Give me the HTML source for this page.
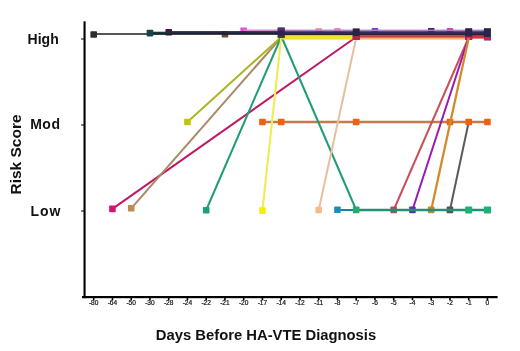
<!DOCTYPE html>
<html><head><meta charset="utf-8"><style>
html,body{margin:0;padding:0;background:#fff;}
body{width:520px;height:351px;overflow:hidden;position:relative;}
svg{position:absolute;left:0;top:0;filter:blur(0.3px);}
</style></head><body>
<svg width="520" height="351" viewBox="0 0 520 351">
<line x1="262.45" y1="122.00" x2="487.45" y2="122.00" stroke="#c47a4c" stroke-width="2.4"/>
<line x1="337.45" y1="210.00" x2="487.45" y2="210.00" stroke="#1e7fa8" stroke-width="1.8"/>
<line x1="112.45" y1="208.90" x2="356.20" y2="37.00" stroke="#bc1a66" stroke-width="2.0"/>
<line x1="131.20" y1="208.30" x2="281.20" y2="37.50" stroke="#aa8a64" stroke-width="2.0"/>
<line x1="187.45" y1="122.00" x2="281.20" y2="37.00" stroke="#acb424" stroke-width="2.0"/>
<line x1="206.20" y1="210.00" x2="281.20" y2="37.00" stroke="#1e9c78" stroke-width="2.0"/>
<line x1="262.45" y1="210.00" x2="281.20" y2="37.50" stroke="#f0ec50" stroke-width="2.1"/>
<line x1="281.20" y1="36.00" x2="356.20" y2="210.00" stroke="#1e9c78" stroke-width="2.0"/>
<line x1="318.70" y1="210.00" x2="356.20" y2="38.00" stroke="#e6c09c" stroke-width="2.0"/>
<line x1="393.70" y1="210.00" x2="468.70" y2="37.50" stroke="#c8505a" stroke-width="2.0"/>
<line x1="412.45" y1="210.00" x2="468.70" y2="37.50" stroke="#9a18b4" stroke-width="2.0"/>
<line x1="449.95" y1="210.00" x2="468.70" y2="122.00" stroke="#5a5a5a" stroke-width="2.0"/>
<rect x="165.40" y="28.90" width="6.6" height="6.6" rx="0.8" fill="#50103c"/>
<rect x="221.65" y="31.00" width="6.6" height="6.6" rx="0.8" fill="#6a4a30"/>
<rect x="240.40" y="27.50" width="6.6" height="6.6" rx="0.8" fill="#e050d8"/>
<rect x="315.40" y="28.00" width="6.6" height="6.6" rx="0.8" fill="#f0a090"/>
<rect x="334.15" y="28.00" width="6.6" height="6.6" rx="0.8" fill="#f088c8"/>
<rect x="371.65" y="28.10" width="6.6" height="6.6" rx="0.8" fill="#7040c0"/>
<rect x="427.90" y="27.90" width="6.6" height="6.6" rx="0.8" fill="#402050"/>
<rect x="446.65" y="27.90" width="6.6" height="6.6" rx="0.8" fill="#d040a0"/>
<rect x="281.20" y="35.40" width="75.00" height="4.20" fill="#e8dc40"/>
<rect x="281.20" y="36.30" width="75.00" height="2.60" fill="#f0e030"/>
<rect x="356.20" y="35.20" width="112.50" height="2.60" fill="#c43c44"/>
<rect x="356.20" y="37.80" width="112.50" height="1.80" fill="#f6b868"/>
<rect x="468.70" y="35.00" width="18.75" height="3.60" fill="#d03040"/>
<rect x="243.70" y="29.50" width="37.50" height="1.70" fill="#d488d8"/>
<rect x="281.20" y="29.60" width="206.25" height="1.70" fill="#b07cc4"/>
<rect x="168.70" y="31.10" width="112.50" height="3.20" fill="#252a4a"/>
<rect x="281.20" y="31.20" width="206.25" height="3.10" fill="#342a58"/>
<rect x="149.95" y="31.70" width="18.75" height="2.80" fill="#173a42"/>
<line x1="93.70" y1="34.05" x2="281.20" y2="34.05" stroke="#1e1e1e" stroke-width="1.5"/>
<rect x="281.20" y="33.90" width="206.25" height="1.30" fill="#2a2228"/>
<rect x="90.40" y="31.20" width="6.6" height="6.6" rx="0.8" fill="#2e2e2e"/>
<rect x="146.65" y="29.80" width="6.6" height="6.6" rx="0.8" fill="#17464a"/>
<rect x="277.70" y="27.60" width="7.00" height="10.20" fill="#2a2648"/>
<rect x="277.70" y="27.60" width="7.00" height="3.00" fill="#5a2c68"/>
<rect x="277.70" y="35.60" width="7.00" height="2.20" fill="#4a3a30"/>
<rect x="352.70" y="28.40" width="7.00" height="11.50" fill="#2a2444"/>
<rect x="352.70" y="36.00" width="7.00" height="3.90" fill="#c02050"/>
<rect x="465.20" y="28.20" width="7.00" height="11.70" fill="#2a2448"/>
<rect x="465.20" y="36.50" width="7.00" height="3.40" fill="#c82050"/>
<rect x="483.95" y="28.20" width="7.00" height="12.10" fill="#2a2448"/>
<rect x="483.95" y="37.00" width="7.00" height="3.30" fill="#c82060"/>
<rect x="184.15" y="118.70" width="6.6" height="6.6" rx="0.8" fill="#bcc40c"/>
<rect x="259.15" y="118.70" width="6.6" height="6.6" rx="0.8" fill="#f06010"/>
<rect x="277.90" y="118.70" width="6.6" height="6.6" rx="0.8" fill="#f06010"/>
<rect x="352.90" y="118.70" width="6.6" height="6.6" rx="0.8" fill="#f06010"/>
<rect x="446.65" y="118.70" width="6.6" height="6.6" rx="0.8" fill="#f06010"/>
<rect x="465.40" y="118.70" width="6.6" height="6.6" rx="0.8" fill="#f06010"/>
<rect x="484.15" y="118.70" width="6.6" height="6.6" rx="0.8" fill="#f06010"/>
<line x1="431.20" y1="210.00" x2="468.70" y2="38.00" stroke="#d48a2c" stroke-width="2.3"/>
<rect x="109.15" y="205.60" width="6.6" height="6.6" rx="0.8" fill="#dc1470"/>
<rect x="127.90" y="205.00" width="6.6" height="6.6" rx="0.8" fill="#be8c50"/>
<rect x="202.90" y="206.90" width="6.6" height="6.6" rx="0.8" fill="#1ea07a"/>
<rect x="259.15" y="207.30" width="6.6" height="6.6" rx="0.8" fill="#f2ee10"/>
<rect x="315.40" y="206.70" width="6.6" height="6.6" rx="0.8" fill="#f0be8c"/>
<rect x="390.40" y="206.60" width="6.6" height="6.6" rx="0.8" fill="#a0545a"/>
<rect x="409.15" y="206.60" width="6.6" height="6.6" rx="0.8" fill="#5a34a0"/>
<rect x="427.90" y="206.60" width="6.6" height="6.6" rx="0.8" fill="#b88c30"/>
<rect x="446.65" y="206.60" width="6.6" height="6.6" rx="0.8" fill="#4c5656"/>
<line x1="356.20" y1="210.00" x2="487.45" y2="210.00" stroke="#229072" stroke-width="2.5"/>
<rect x="334.15" y="206.40" width="6.6" height="6.6" rx="0.8" fill="#1e8cb4"/>
<rect x="352.90" y="206.60" width="6.6" height="6.6" rx="0.8" fill="#1eaf6e"/>
<rect x="465.20" y="206.50" width="7.0" height="7.0" rx="0.8" fill="#1eb07a"/>
<rect x="483.85" y="206.40" width="7.2" height="7.2" rx="0.8" fill="#1eb07a"/>
<rect x="83.5" y="21.3" width="2.1" height="276.9" fill="#000"/>
<rect x="82" y="296" width="415.6" height="2.2" fill="#000"/>
<rect x="81" y="38.5" width="3" height="1" fill="#000"/>
<rect x="81" y="124.5" width="3" height="1" fill="#000"/>
<rect x="81" y="210.5" width="3" height="1" fill="#000"/>
<rect x="92.90" y="297.5" width="1.6" height="2.7" fill="#000"/>
<rect x="111.65" y="297.5" width="1.6" height="2.7" fill="#000"/>
<rect x="130.40" y="297.5" width="1.6" height="2.7" fill="#000"/>
<rect x="149.15" y="297.5" width="1.6" height="2.7" fill="#000"/>
<rect x="167.90" y="297.5" width="1.6" height="2.7" fill="#000"/>
<rect x="186.65" y="297.5" width="1.6" height="2.7" fill="#000"/>
<rect x="205.40" y="297.5" width="1.6" height="2.7" fill="#000"/>
<rect x="224.15" y="297.5" width="1.6" height="2.7" fill="#000"/>
<rect x="242.90" y="297.5" width="1.6" height="2.7" fill="#000"/>
<rect x="261.65" y="297.5" width="1.6" height="2.7" fill="#000"/>
<rect x="280.40" y="297.5" width="1.6" height="2.7" fill="#000"/>
<rect x="299.15" y="297.5" width="1.6" height="2.7" fill="#000"/>
<rect x="317.90" y="297.5" width="1.6" height="2.7" fill="#000"/>
<rect x="336.65" y="297.5" width="1.6" height="2.7" fill="#000"/>
<rect x="355.40" y="297.5" width="1.6" height="2.7" fill="#000"/>
<rect x="374.15" y="297.5" width="1.6" height="2.7" fill="#000"/>
<rect x="392.90" y="297.5" width="1.6" height="2.7" fill="#000"/>
<rect x="411.65" y="297.5" width="1.6" height="2.7" fill="#000"/>
<rect x="430.40" y="297.5" width="1.6" height="2.7" fill="#000"/>
<rect x="449.15" y="297.5" width="1.6" height="2.7" fill="#000"/>
<rect x="467.90" y="297.5" width="1.6" height="2.7" fill="#000"/>
<rect x="486.65" y="297.5" width="1.6" height="2.7" fill="#000"/>
<g font-family="Liberation Sans, sans-serif" font-size="6.6" text-anchor="middle" fill="#111" stroke="#111" stroke-width="0.2">
<text x="93.70" y="305.2">-80</text>
<text x="112.45" y="305.2">-64</text>
<text x="131.20" y="305.2">-50</text>
<text x="149.95" y="305.2">-30</text>
<text x="168.70" y="305.2">-28</text>
<text x="187.45" y="305.2">-24</text>
<text x="206.20" y="305.2">-22</text>
<text x="224.95" y="305.2">-21</text>
<text x="243.70" y="305.2">-20</text>
<text x="262.45" y="305.2">-17</text>
<text x="281.20" y="305.2">-14</text>
<text x="299.95" y="305.2">-12</text>
<text x="318.70" y="305.2">-11</text>
<text x="337.45" y="305.2">-8</text>
<text x="356.20" y="305.2">-7</text>
<text x="374.95" y="305.2">-6</text>
<text x="393.70" y="305.2">-5</text>
<text x="412.45" y="305.2">-4</text>
<text x="431.20" y="305.2">-3</text>
<text x="449.95" y="305.2">-2</text>
<text x="468.70" y="305.2">-1</text>
<text x="487.45" y="305.2">0</text>
</g>
<g font-family="Liberation Sans, sans-serif" font-weight="bold" fill="#111">
<text x="27.6" y="43.8" font-size="14" letter-spacing="0">High</text>
<text x="30.2" y="128.6" font-size="14" letter-spacing="0.5">Mod</text>
<text x="30.6" y="215.8" font-size="14" letter-spacing="0.9">Low</text>
<text transform="translate(20.6,154.5) rotate(-90)" font-size="15.5" text-anchor="middle">Risk Score</text>
<text x="266" y="339.6" font-size="14.8" text-anchor="middle">Days Before HA-VTE Diagnosis</text>
</g>
</svg>
</body></html>
